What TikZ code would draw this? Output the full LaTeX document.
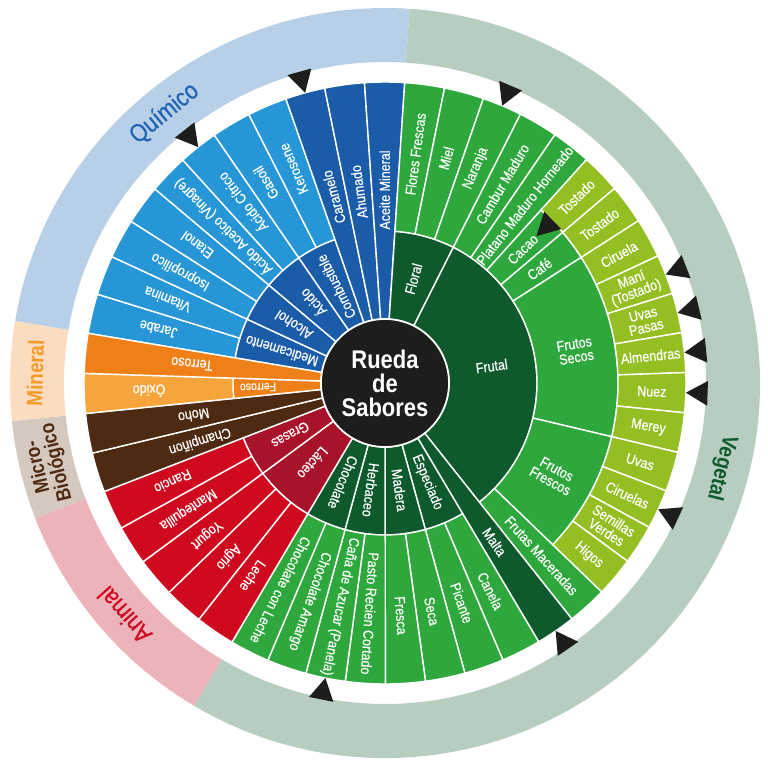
\documentclass[tikz,border=0pt]{standalone}
\usepackage{fontspec}
\setmainfont{Liberation Sans}[FakeStretch=0.86]
\newfontfamily\etiq{Liberation Sans}[FakeStretch=0.86,FakeBold=0.45]
\usepackage{tikz}
\usetikzlibrary{calc}

\definecolor{azulosc}{HTML}{1B5CA8}
\definecolor{azulcla}{HTML}{2796D6}
\definecolor{verdeosc}{HTML}{0E5A2D}
\definecolor{verde}{HTML}{2EA83C}
\definecolor{verdecla}{HTML}{93BF22}
\definecolor{rojoosc}{HTML}{A8122A}
\definecolor{rojo}{HTML}{CF0A1F}
\definecolor{marron}{HTML}{4E2A12}
\definecolor{naranja}{HTML}{EE8017}
\definecolor{naranjacla}{HTML}{F6A53C}
\definecolor{negro}{HTML}{1D1D1B}
\definecolor{bandaquim}{HTML}{B8CFE8}
\definecolor{bandaveg}{HTML}{B6CDC0}
\definecolor{bandaani}{HTML}{ECB3BA}
\definecolor{bandamic}{HTML}{D4C8BF}
\definecolor{bandamin}{HTML}{FCDCBF}
\definecolor{txtquim}{HTML}{1F63B5}
\definecolor{txtmin}{HTML}{F39A2A}

\begin{document}
\begin{tikzpicture}[x=0.3mm, y=0.3mm,
  etiqueta/.style={text=white, font=\etiq\fontsize{12.4}{11.6}\selectfont, align=center, inner sep=0pt},
  banda/.style={inner sep=0pt, align=center},
  sector/.style={draw=white, line width=1.2pt}]
\useasboundingbox (-385,-385) rectangle (383,383);

% anillo exterior
\foreach \ka/\kb/\col in {0/11/bandaquim, 11/38/bandaveg, 38/43/bandaani, 43/45/bandamic, 45/47/bandamin} {
\pgfmathsetmacro\a{170.5-\ka*7.65957}
\pgfmathsetmacro\b{170.5-\kb*7.65957}
\fill[\col] (\a:321) arc[start angle=\a, end angle=\b, radius=321] -- (\b:375) arc[start angle=\b, end angle=\a, radius=375] -- cycle;
}
\node[banda, text=txtquim, font=\etiq\fontsize{21.5}{22}\selectfont, rotate=39.3] (quimico) at (129.3:348) {Químico};
\node[banda, text=verdeosc, font=\bfseries\fontsize{18.8}{19}\selectfont, rotate=-104.2] (vegetal) at (-14.2:347) {Vegetal};
\node[banda, text=rojo, font=\etiq\fontsize{21.5}{22}\selectfont, rotate=131.7] (animal) at (221.7:349) {Animal};
\node[banda, text=marron, font=\bfseries\fontsize{17.4}{16.5}\selectfont, rotate=103.6] (micro) at (193.6:347) {Micro-\\Biológico};
\node[banda, text=txtmin, font=\bfseries\fontsize{18.8}{19}\selectfont, rotate=88.4] (mineral) at (178.4:350) {Mineral};

% sectores de la rueda
\foreach \ka/\kb/\ri/\ro/\col/\rt/\txt in {
 0/2/64/152/azulosc/108/Medicamento,
 2/4/64/152/azulosc/108/Alcohol,
 4/6/64/152/azulosc/108/Ácido,
 6/8/64/152/azulosc/108/Combustible,
 0/1/152/301/azulcla/233/Jarabe,
 1/2/152/301/azulcla/233/Vitamina,
 2/3/152/301/azulcla/233/Isopropílico,
 3/4/152/301/azulcla/233/Etanol,
 4/5/152/301/azulcla/225/{Ácido Acetico (Vinagre)},
 5/6/152/301/azulcla/230/{Ácido Cítrico},
 6/7/152/301/azulcla/233/Gasoil,
 7/8/152/301/azulcla/233/Kerosene,
 8/9/64/301/azulosc/193/Caramelo,
 9/10/64/301/azulosc/193/Ahumado,
 10/11/64/301/azulosc/193/{Aceite Mineral},
 11/14/64/152/verdeosc/108/Floral,
 14/29/64/152/verdeosc/108/{},
 11/12/152/301/verde/231/{Flores Frescas},
 12/13/152/301/verde/233/Miel,
 13/14/152/301/verde/233/Naranja,
 14/15/152/301/verde/231/{Cambur Maduro},
 15/16/152/301/verde/226/{Platano Maduro Horneado},
 16/17/152/233/verde/192/Cacao,
 17/18/152/233/verde/192/Café,
 18/24/152/233/verde/193/{Frutos\\Secos},
 24/28/152/233/verde/192/{Frutos\\Frescos},
 16/17/233/301/verdecla/267/Tostado,
 17/18/233/301/verdecla/267/Tostado,
 18/19/233/301/verdecla/267/Ciruela,
 19/20/233/301/verdecla/267/{Maní\\(Tostado)},
 20/21/233/301/verdecla/267/{Uvas\\Pasas},
 21/22/233/301/verdecla/267/Almendras,
 22/23/233/301/verdecla/267/Nuez,
 23/24/233/301/verdecla/267/Merey,
 24/25/233/301/verdecla/267/Uvas,
 25/26/233/301/verdecla/267/Ciruelas,
 26/27/233/301/verdecla/267/{Semillas\\Verdes},
 27/28/233/301/verdecla/267/Higos,
 28/29/152/301/verde/233/{Frutas Maceradas},
 29/30/64/301/verdeosc/193/Malta,
 30/32/64/152/verdeosc/108/Especiado,
 32/34/64/152/verdeosc/108/Madera,
 34/36/64/152/verdeosc/108/Herbaceo,
 36/38/64/152/verdeosc/108/Chocolate,
 30/31/152/301/verde/233/Canela,
 31/32/152/301/verde/233/Picante,
 32/33/152/301/verde/233/Seca,
 33/34/152/301/verde/233/Fresca,
 34/35/152/301/verde/231/{Pasto Recien Cortado},
 35/36/152/301/verde/228/{Caña de Azucar (Panela)},
 36/37/152/301/verde/231/{Chocolate Amargo},
 37/38/152/301/verde/232/{Chocolate con Leche},
 38/41/64/152/rojoosc/108/Lácteo,
 41/43/64/152/rojoosc/108/Grasas,
 38/39/152/301/rojo/234/Leche,
 39/40/152/301/rojo/234/Agrio,
 40/41/152/301/rojo/234/Yogurt,
 41/42/152/301/rojo/234/Mantequilla,
 42/43/152/301/rojo/234/Rancio,
 43/44/64/301/marron/194/Champiñon,
 44/45/64/301/marron/194/Moho,
 45/46/64/152/naranja/127/{\fontsize{10.4}{11}\selectfont Ferroso},
 45/46/152/301/naranjacla/236/Óxido,
 46/47/64/301/naranja/194/Terroso} {
\pgfmathsetmacro\a{170.5-\ka*7.65957}
\pgfmathsetmacro\b{170.5-\kb*7.65957}
\pgfmathsetmacro\m{(\a+\b)/2}
\filldraw[sector, fill=\col] (\a:\ri) arc[start angle=\a, end angle=\b, radius=\ri] -- (\b:\ro) arc[start angle=\b, end angle=\a, radius=\ro] -- cycle;
\node[etiqueta, rotate=\m] (w-\ka-\ri) at (\m:\rt) {\txt};
}
\node[etiqueta, rotate=8] (frutal) at (9:108) {Frutal};

% marcas
\foreach \k in {5.5,8.5,13.5,19.5,20.5,21.5,22.5,25.5,29.5,35.5} {
\pgfmathsetmacro\m{170.5-\k*7.65957}
\fill[negro] (\m:301) -- ({\m+2.2}:323) -- ({\m-2.2}:323) -- cycle;
}
\pgfmathsetmacro\m{170.5-16.5*7.65957}
\fill[negro] (\m:211) -- ({\m+3}:234) -- ({\m-3}:234) -- cycle;

% centro
\filldraw[fill=negro, draw=white, line width=1.5pt] (0,0) circle[radius=64];
\node[text=white, font=\bfseries\fontsize{21.8}{20.5}\selectfont, align=center] (centro) at (0,0) {Rueda\\de\\Sabores};
\end{tikzpicture}
\end{document}
